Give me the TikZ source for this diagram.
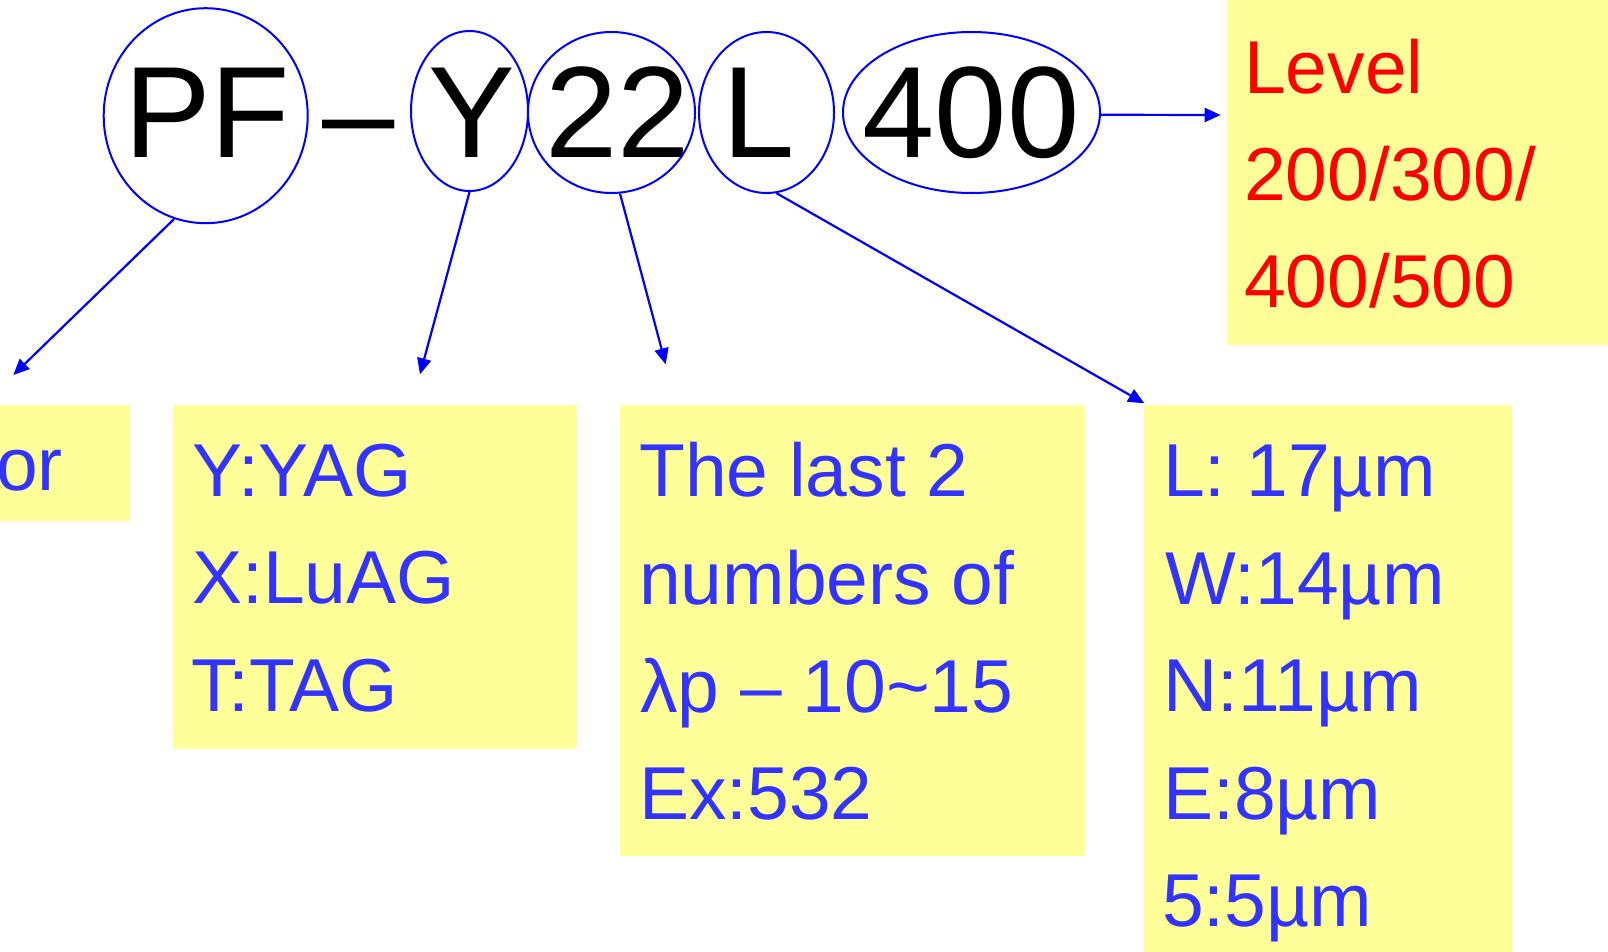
\documentclass[tikz,border=0pt]{standalone}
\usepackage{fontspec}
\setmainfont{Liberation Sans}
\usetikzlibrary{shapes.geometric,arrows.meta}
\definecolor{boxyellow}{HTML}{FFFF99}
\definecolor{txtblue}{HTML}{3333FF}
\definecolor{linkblue}{HTML}{0000FF}
\definecolor{txtred}{HTML}{FF0000}
\begin{document}
\begin{tikzpicture}[x=1pt,y=-1pt,
  oval/.style={ellipse,draw=linkblue,line width=2pt,inner sep=0pt},
  bigtxt/.style={anchor=base west,inner sep=0pt,font=\fontsize{130}{130}\selectfont,text=black},
  notebox/.style={fill=boxyellow,draw=none,anchor=north west,inner sep=0pt},
  bluetxt/.style={anchor=base west,inner sep=0pt,font=\fontsize{75}{90}\selectfont,text=txtblue},
  redtxt/.style={bluetxt,text=txtred},
  link/.style={draw=linkblue,line width=2.2pt,-{Triangle[length=16pt,width=14pt]}}]
\useasboundingbox (0,0) rectangle (1608,951);
\fill[white] (0,0) rectangle (1608,951);
\clip (0,0) rectangle (1608,951);

% yellow note boxes
\node[notebox,minimum width=180pt,minimum height=116pt] (boxP) at (-50,405) {};
\node[notebox,minimum width=404pt,minimum height=344pt] (boxY) at (173,405) {};
\node[notebox,minimum width=465pt,minimum height=451pt] (boxW) at (620,405) {};
\node[notebox,minimum width=368pt,minimum height=560pt] (boxS) at (1144,405) {};
\node[notebox,minimum width=420pt,minimum height=400pt] (boxR) at (1227,-55) {};

% code letters
\node[bigtxt] (tPF) at (124,157) {PF};
\node[bigtxt] (tDash) at (322,157) {–};
\node[bigtxt] (tY) at (428.5,157) {Y};
\node[bigtxt] (t22) at (545,157) {22};
\node[bigtxt] (tL) at (722.5,157) {L};
\node[bigtxt] (t400) at (862.5,157) {400};

% ellipses
\node[oval,minimum width=204pt,minimum height=215pt] (pfE) at (205.7,115.7) {};
\node[oval,minimum width=117pt,minimum height=160pt] (yE) at (469.5,111) {};
\node[oval,minimum width=167pt,minimum height=161pt] (tE) at (611.5,112.5) {};
\node[oval,minimum width=135pt,minimum height=161pt] (lE) at (766.5,112.5) {};
\node[oval,minimum width=257pt,minimum height=161pt] (fE) at (971.5,112.5) {};

% note texts
\node[bluetxt] (pOr) at (-4,490) {or};

\node[bluetxt] (y1) at (192,496) {Y:YAG};
\node[bluetxt] (y2) at (192,603) {X:LuAG};
\node[bluetxt] (y3) at (191,711) {T:TAG};

\node[bluetxt] (w1) at (639,496.5) {The last 2};
\node[bluetxt] (w2) at (639,604) {numbers of};
\node[bluetxt] (w3) at (640,712) {λp – 10\textasciitilde15};
\node[bluetxt] (w4) at (639,819) {Ex:532};

\node[bluetxt] (s1) at (1163,496.5) {L: 17µm};
\node[bluetxt] (s2) at (1165,604) {W:14µm};
\node[bluetxt] (s3) at (1163,711.5) {N:11µm};
\node[bluetxt] (s4) at (1163,819) {E:8µm};
\node[bluetxt] (s5) at (1162,926) {5:5µm};

\node[redtxt] (r1) at (1244,93) {Level};
\node[redtxt] (r2) at (1244,200) {200/300/};
\node[redtxt] (r3) at (1244,307) {400/500};

% arrow tips
\coordinate (pfTip) at (13.3,375);
\coordinate (yTip) at (420,374.3);
\coordinate (tTip) at (665.7,364.3);
\coordinate (lTip) at (1144.3,403.3);
\coordinate (fTip) at (1220.7,115);

\draw[link] (pfE.-107) -- (pfTip);
\draw[link] (yE.-90) -- (yTip);
\draw[link] (tE.-84) -- (tTip);
\draw[link] (lE.-83) -- (lTip);
\draw[link] (fE.-1) -- (fTip);
\end{tikzpicture}
\end{document}
